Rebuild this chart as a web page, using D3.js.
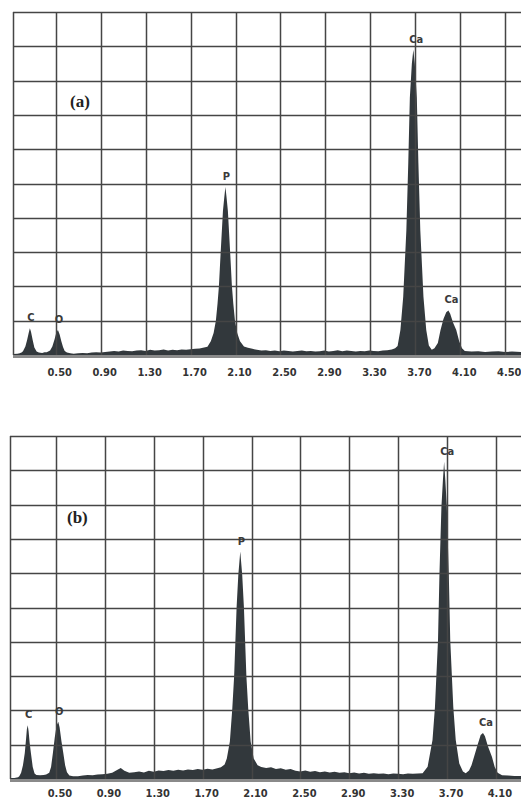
<!DOCTYPE html>
<html>
<head>
<meta charset="utf-8">
<script src="https://cdn.jsdelivr.net/npm/d3@7"></script>
<style>
  body { margin: 0; background: #fff; }
  svg { display: block; }
</style>
</head>
<body>
<div id="chart"></div>
<script>
// tick labels (keV), same on both spectra
var tickLabels = ["0.50", "0.90", "1.30", "1.70", "2.10", "2.50", "2.90", "3.30", "3.70", "4.10", "4.50"];

// spectrum (a): [energy keV, counts as % of full scale]
var spectrumA = [
    [0.12, 0.3], [0.16, 0.4], [0.18, 0.5], [0.20, 0.8],
    [0.21, 1.2], [0.23, 2.5], [0.245, 4.3], [0.26, 6.5], [0.27, 7.8], [0.28, 6.8],
    [0.295, 4.4], [0.31, 2.2], [0.33, 1.0], [0.35, 0.7], [0.38, 0.6], [0.40, 0.8], [0.42, 0.8],
    [0.45, 1.3], [0.47, 2.5], [0.49, 4.6], [0.505, 6.5], [0.52, 7.3], [0.535, 6.0],
    [0.55, 4.0], [0.565, 2.3], [0.58, 1.2], [0.60, 0.7], [0.63, 0.5], [0.66, 0.4],
    [0.70, 0.5], [0.74, 0.6], [0.78, 0.5], [0.82, 0.7], [0.86, 0.8], [0.90, 0.7],
    [0.94, 0.9], [0.98, 1.0], [1.02, 1.2], [1.06, 1.0], [1.10, 1.3], [1.14, 1.2],
    [1.18, 1.1], [1.22, 1.3], [1.26, 1.4], [1.30, 1.2], [1.34, 1.5], [1.38, 1.3],
    [1.42, 1.4], [1.46, 1.6], [1.50, 1.3], [1.54, 1.5], [1.58, 1.4], [1.62, 1.6],
    [1.66, 1.5], [1.70, 1.7], [1.74, 1.8], [1.78, 1.9], [1.82, 2.2], [1.85, 2.4],
    [1.88, 4.0], [1.905, 6.4], [1.925, 10], [1.94, 15], [1.952, 20], [1.96, 25],
    [1.968, 30], [1.978, 36], [1.988, 42], [2.0, 46], [2.01, 49], [2.02, 46],
    [2.032, 42], [2.042, 36], [2.052, 30], [2.06, 25], [2.068, 20], [2.08, 15],
    [2.095, 10], [2.115, 6.4], [2.14, 4.0], [2.175, 2.5], [2.21, 2.1], [2.25, 1.8],
    [2.29, 1.5], [2.33, 1.3], [2.37, 1.4], [2.41, 1.2], [2.45, 1.3], [2.49, 1.1],
    [2.53, 1.3], [2.57, 1.2], [2.61, 1.0], [2.65, 1.2], [2.69, 1.3], [2.73, 1.1],
    [2.77, 1.2], [2.81, 1.0], [2.85, 1.1], [2.89, 1.3], [2.93, 1.0], [2.97, 1.2],
    [3.01, 1.4], [3.05, 1.1], [3.09, 1.3], [3.13, 1.2], [3.17, 1.0], [3.21, 1.2],
    [3.25, 1.1], [3.29, 1.3], [3.33, 1.2], [3.37, 1.1], [3.41, 1.3], [3.45, 1.4],
    [3.49, 1.6], [3.52, 2.0], [3.542, 2.6], [3.567, 7.3], [3.592, 17], [3.605, 26],
    [3.62, 36.4], [3.637, 56], [3.651, 75], [3.669, 85], [3.682, 89], [3.695, 85],
    [3.713, 75], [3.727, 56], [3.744, 36.4], [3.759, 26], [3.772, 17], [3.797, 7.3],
    [3.82, 2.8], [3.846, 1.5], [3.87, 2.0], [3.90, 3.5], [3.924, 7.3], [3.95, 10.5],
    [3.975, 12.5], [3.994, 13], [4.01, 12.0], [4.035, 9.5], [4.064, 7.3], [4.09, 4.0],
    [4.115, 2.0], [4.14, 1.2], [4.20, 1.0], [4.26, 1.1], [4.32, 0.9], [4.38, 1.0],
    [4.44, 1.1], [4.50, 0.9], [4.56, 1.0], [4.64, 0.9]
];

// spectrum (b)
var spectrumB = [
    [0.124, 0.3], [0.16, 0.3], [0.19, 0.5], [0.20, 0.8], [0.215, 1.8], [0.23, 4.0],
    [0.245, 7.6], [0.255, 11.5], [0.262, 14.5], [0.269, 15.7], [0.276, 14.0],
    [0.285, 10.5], [0.295, 7.6], [0.31, 3.5], [0.325, 1.6], [0.34, 1.2], [0.37, 1.1],
    [0.40, 1.2], [0.42, 1.3], [0.445, 1.8], [0.46, 3.5], [0.475, 7.6], [0.49, 12.0],
    [0.505, 15.5], [0.519, 16.7], [0.53, 15.0], [0.545, 11.0], [0.56, 7.6],
    [0.575, 4.0], [0.59, 2.0], [0.61, 1.0], [0.64, 0.8], [0.68, 0.8], [0.72, 1.0],
    [0.76, 1.2], [0.80, 1.1], [0.84, 1.3], [0.88, 1.4], [0.92, 1.5], [0.96, 1.8],
    [1.00, 2.6], [1.03, 3.2], [1.06, 2.4], [1.10, 1.8], [1.14, 2.0], [1.18, 2.2],
    [1.22, 1.9], [1.26, 2.4], [1.30, 2.1], [1.34, 2.5], [1.38, 2.3], [1.42, 2.6],
    [1.46, 2.4], [1.50, 2.7], [1.54, 2.5], [1.58, 2.8], [1.62, 2.6], [1.66, 2.9],
    [1.70, 2.7], [1.74, 3.0], [1.78, 2.8], [1.82, 3.1], [1.85, 3.4], [1.88, 4.2],
    [1.898, 6.0], [1.923, 10.9], [1.943, 20.6], [1.958, 30], [1.968, 40], [1.978, 50],
    [1.992, 59.5], [2.008, 66.3], [2.024, 59.5], [2.038, 50], [2.048, 40], [2.058, 30],
    [2.073, 20.6], [2.093, 10.9], [2.118, 6.0], [2.15, 4.0], [2.18, 3.5], [2.22, 3.2],
    [2.26, 3.4], [2.30, 2.9], [2.34, 3.1], [2.38, 2.7], [2.42, 2.9], [2.46, 2.4],
    [2.50, 2.2], [2.54, 2.5], [2.58, 2.1], [2.62, 2.3], [2.66, 2.0], [2.70, 2.2],
    [2.74, 1.9], [2.78, 2.1], [2.82, 1.8], [2.86, 2.0], [2.90, 1.7], [2.94, 1.9],
    [2.98, 1.6], [3.02, 1.8], [3.06, 1.5], [3.10, 1.7], [3.14, 1.5], [3.18, 1.6],
    [3.22, 1.4], [3.26, 1.6], [3.30, 1.5], [3.34, 1.4], [3.38, 1.6], [3.42, 1.5],
    [3.46, 1.6], [3.50, 1.7], [3.541, 3.6], [3.581, 11.4], [3.601, 21], [3.626, 40.5],
    [3.638, 60], [3.654, 79.4], [3.666, 87], [3.676, 92.5], [3.686, 87], [3.698, 79.4],
    [3.714, 60], [3.726, 40.5], [3.751, 21], [3.771, 11.4], [3.80, 4.5], [3.83, 2.2],
    [3.853, 1.7], [3.88, 2.5], [3.90, 4.0], [3.921, 6.5], [3.95, 10], [3.975, 12.8],
    [3.994, 13.4], [4.01, 12.5], [4.035, 9.5], [4.067, 6.5], [4.09, 3.5], [4.114, 1.8],
    [4.15, 1.1], [4.20, 1.0], [4.25, 0.9], [4.305, 0.9]
];

// peak labels: [energy, element]
var peaksA = [[0.27, "C"], [0.52, "O"], [2.01, "P"], [3.682, "Ca"], [3.994, "Ca"]];
var peaksB = [[0.269, "C"], [0.519, "O"], [2.008, "P"], [3.676, "Ca"], [3.994, "Ca"]];

var W = 521, H = 800;

var svg = d3.select("#chart")
    .append("svg")
    .attr("width", W)
    .attr("height", H);

function drawPanel(cfg) {
    var x = d3.scaleLinear().domain(cfg.xDomain).range([cfg.left, W]);
    var y = d3.scaleLinear().domain([0, 100]).range([cfg.bottom, cfg.top]);

    var g = svg.append("g");

    var clipId = "clip-" + cfg.name;
    g.append("clipPath").attr("id", clipId)
        .append("rect")
        .attr("x", cfg.left).attr("y", cfg.top - 2)
        .attr("width", W - cfg.left).attr("height", cfg.bottom - cfg.top + 4);

    // filled spectrum
    var area = d3.area()
        .x(function (d) { return x(d[0]); })
        .y0(y(0))
        .y1(function (d) { return y(d[1]); });

    g.append("path")
        .datum(cfg.data)
        .attr("clip-path", "url(#" + clipId + ")")
        .attr("fill", "#32383c")
        .attr("d", area);

    // grid
    var grid = g.append("g").attr("stroke", "#454545").attr("stroke-width", 1.5);
    grid.selectAll("line.h")
        .data(d3.range(10, 101, 10))
        .enter().append("line")
        .attr("x1", cfg.left).attr("x2", W)
        .attr("y1", function (d) { return Math.round(y(d)) + 0.5; })
        .attr("y2", function (d) { return Math.round(y(d)) + 0.5; });

    var tickVals = tickLabels.map(Number).filter(function (v) { return x(v) < W; });
    grid.selectAll("line.v")
        .data([cfg.xDomain[0]].concat(tickVals))
        .enter().append("line")
        .attr("x1", function (d) { return Math.round(x(d)) + 0.5; })
        .attr("x2", function (d) { return Math.round(x(d)) + 0.5; })
        .attr("y1", cfg.top)
        .attr("y2", cfg.bottom);

    // base line
    g.append("line")
        .attr("x1", cfg.left).attr("x2", W)
        .attr("y1", y(0) + 1.5).attr("y2", y(0) + 1.5)
        .attr("stroke", "#8a8a8a")
        .attr("stroke-width", 3);

    // tick labels
    g.selectAll("text.tick")
        .data(tickLabels.filter(function (t) { return x(+t) < W; }))
        .enter().append("text")
        .attr("x", function (d) { return x(+d) + 4; })
        .attr("y", cfg.bottom + cfg.labelGap)
        .attr("text-anchor", "middle")
        .attr("font-family", "'Liberation Sans Narrow', 'DejaVu Sans Condensed', sans-serif")
        .attr("font-weight", "bold")
        .attr("font-size", 11)
        .attr("fill", "#333")
        .text(function (d) { return d; });

    // peak labels
    g.selectAll("text.peak")
        .data(cfg.peaks)
        .enter().append("text")
        .attr("x", function (d) { return x(d[0]) + (d[1] === "Ca" ? 3 : 1); })
        .attr("y", function (d) {
            var top = d3.max(cfg.data.filter(function (p) { return Math.abs(p[0] - d[0]) < 0.03; }),
                function (p) { return p[1]; });
            return y(top) - 7;
        })
        .attr("text-anchor", "middle")
        .attr("font-family", "'Liberation Sans Narrow', 'DejaVu Sans Condensed', sans-serif")
        .attr("font-weight", "bold")
        .attr("font-size", 11)
        .attr("fill", "#3a3a3a")
        .text(function (d) { return d[1]; });

    // panel letter
    g.append("text")
        .attr("x", cfg.left + 57)
        .attr("y", cfg.top + cfg.letterDy)
        .attr("font-family", "'Liberation Serif', 'Times New Roman', serif")
        .attr("font-weight", "bold")
        .attr("font-size", 17)
        .attr("fill", "#222")
        .text(cfg.letter);
}

drawPanel({
    name: "a", data: spectrumA, peaks: peaksA, letter: "(a)",
    xDomain: [0.12, 4.64], left: 13, top: 12, bottom: 355, labelGap: 21, letterDy: 95
});

drawPanel({
    name: "b", data: spectrumB, peaks: peaksB, letter: "(b)",
    xDomain: [0.124, 4.305], left: 10, top: 436, bottom: 779, labelGap: 18, letterDy: 87
});
</script>
</body>
</html>
